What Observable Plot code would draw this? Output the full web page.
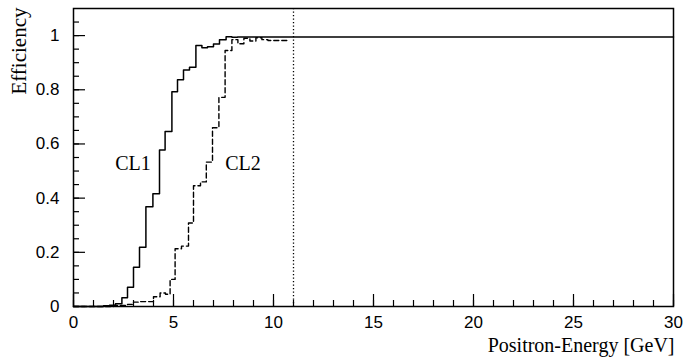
<!DOCTYPE html>
<html>
<head>
<meta charset="utf-8">
<script src="https://cdn.jsdelivr.net/npm/d3@7"></script>
<script src="https://cdn.jsdelivr.net/npm/@observablehq/plot@0.6"></script>
<style>
  html, body { margin: 0; padding: 0; background: #fff; }
</style>
</head>
<body>
<div id="chart"></div>
<script>
// CL1 (solid): bin left edges [GeV] and efficiency in each bin
const cl1Edges = [0, 1.5, 1.8, 2.1, 2.42, 2.7, 3.0, 3.3, 3.62, 3.97, 4.3, 4.58, 4.92, 5.2, 5.5, 5.8, 6.12, 6.42, 6.7, 7.0, 7.3, 7.63, 7.92, 8.2, 30];
const cl1Eff   = [0, 0.003, 0.005, 0.01, 0.032, 0.071, 0.145, 0.219, 0.368, 0.416, 0.578, 0.646, 0.793, 0.837, 0.873, 0.883, 0.963, 0.955, 0.959, 0.969, 0.985, 0.996, 0.994, 0.995, 0.995];

// CL2 (dashed)
const cl2Edges = [0, 2.0, 2.7, 3.0, 3.33, 4.0, 4.33, 4.6, 4.83, 5.08, 5.4, 5.75, 6.0, 6.35, 6.64, 6.95, 7.27, 7.58, 7.92, 8.22, 8.52, 8.82, 9.12, 9.42, 9.72, 10.8];
const cl2Eff   = [0, 0.004, 0.008, 0.016, 0.018, 0.036, 0.05, 0.045, 0.10, 0.213, 0.223, 0.308, 0.446, 0.46, 0.533, 0.66, 0.772, 0.945, 0.985, 0.97, 0.99, 0.98, 0.992, 0.985, 0.982, 0.982];

// dotted reference line
const cutEnergy = [11];

// curve labels
const labelText = ["CL1", "CL2"];
const labelX = [2.975, 8.475];
const labelY = [0.528, 0.528];

// ticks
const xMajor = [0, 5, 10, 15, 20, 25, 30];
const xMinor = d3.range(0, 31, 1);
const yMajor = [0, 0.2, 0.4, 0.6, 0.8, 1];
const yMinor = d3.range(0, 21).map(i => i * 0.05).concat([1.05]);

const cl1 = cl1Edges.map((x, i) => ({x, y: cl1Eff[i]}));
const cl2 = cl2Edges.map((x, i) => ({x, y: cl2Eff[i]}));
const labels = labelText.map((t, i) => ({t, x: labelX[i], y: labelY[i]}));

const serif = "'Liberation Serif', 'DejaVu Serif', serif";

const chart = Plot.plot({
  width: 683,
  height: 357,
  marginLeft: 73,
  marginRight: 10,
  marginTop: 8,
  marginBottom: 51,
  style: {fontFamily: "'Liberation Sans', Arial, sans-serif", fontSize: "17px", color: "#000", background: "#fff"},
  x: {domain: [0, 30]},
  y: {domain: [0, 1.1]},
  marks: [
    // minor and major inward ticks
    Plot.axisX(xMinor, {tickSize: -6, tickFormat: () => "", label: null, strokeWidth: 1.2}),
    Plot.axisX(xMajor, {tickSize: -12, tickFormat: () => "", label: null, strokeWidth: 1.2}),
    Plot.axisY(yMinor, {tickSize: -6, tickFormat: () => "", label: null, strokeWidth: 1.2}),
    Plot.axisY(yMajor, {tickSize: -12, tickFormat: () => "", label: null, strokeWidth: 1.2}),
    // tick labels
    Plot.axisX(xMajor, {tickSize: 0, tickPadding: 9, label: null, fontSize: 17, tickFormat: d => String(d)}),
    Plot.axisY(yMajor, {tickSize: 0, tickPadding: 14, label: null, fontSize: 17, tickFormat: d => String(d)}),
    Plot.frame({strokeWidth: 1.5}),
    Plot.ruleX(cutEnergy, {strokeWidth: 1.3, strokeDasharray: "1.3,2.2"}),
    Plot.line(cl1, {x: "x", y: "y", curve: "step-after", stroke: "#000", strokeWidth: 1.5}),
    Plot.line(cl2, {x: "x", y: "y", curve: "step-after", stroke: "#000", strokeWidth: 1.4, strokeDasharray: "5,3"}),
    Plot.text(labels, {x: "x", y: "y", text: "t", fontFamily: serif, fontSize: 20, textAnchor: "middle", fill: "#000"}),
    Plot.text(["Efficiency"], {frameAnchor: "top-left", rotate: -90, textAnchor: "end", dx: -62, dy: -1, fontFamily: serif, fontSize: 21, fill: "#000"}),
    Plot.text(["Positron-Energy [GeV]"], {frameAnchor: "bottom-right", textAnchor: "end", dx: 1, dy: 45, fontFamily: serif, fontSize: 20, fill: "#000"})
  ]
});
document.getElementById("chart").appendChild(chart);
</script>
</body>
</html>
